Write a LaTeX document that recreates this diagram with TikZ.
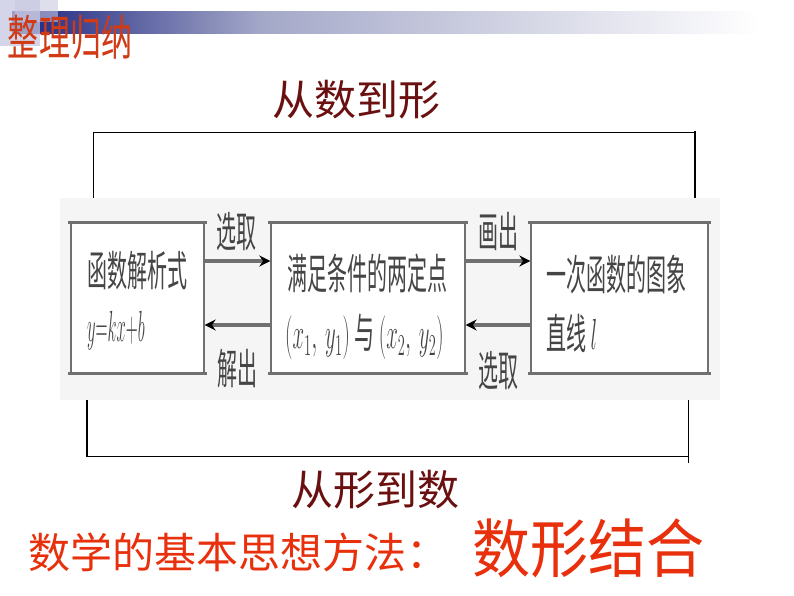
\documentclass[tikz,border=0pt]{standalone}
\usepackage{fontspec}
\setmainfont{Noto Sans CJK SC}
\usetikzlibrary{arrows.meta}
\definecolor{navybar}{HTML}{1A237E}
\definecolor{lavmid}{HTML}{A4A8C8}
\definecolor{lavsq}{HTML}{C8C8E2}
\definecolor{titlered}{HTML}{D03A14}
\definecolor{brightred}{HTML}{E8300C}
\definecolor{deepred}{HTML}{6A1010}
\definecolor{boxline}{HTML}{707070}
\definecolor{boxtext}{HTML}{454545}
\definecolor{bandgray}{HTML}{F5F5F5}
\begin{document}
\begin{tikzpicture}[x=1pt,y=-1pt,
  boxst/.style={draw=boxline,line width=1.2pt,fill=white,inner sep=0pt},
  edgest/.style={draw=boxline,line width=3pt},
  intext/.style={inner sep=0pt,anchor=west,text=boxtext,font=\fontsize{20}{24}\selectfont,yscale=2.1,transform shape},
  lab/.style={inner sep=0pt,text=boxtext,font=\fontsize{20}{24}\selectfont,yscale=2.1,transform shape},
  arr/.style={draw=boxline,line width=3.5pt,-{Stealth[length=11pt,width=11pt,color=black,fill=black]}},
  brk/.style={draw=black,line width=0.8pt},
  brkthick/.style={draw=black,line width=2.6pt}]
\useasboundingbox (0,0) rectangle (794,596);
\fill[white] (0,0) rectangle (794,596);
% header bar
\shade[left color=navybar,right color=lavmid] (12,12) rectangle (262,34);
\shade[left color=lavmid,right color=white] (261,12) rectangle (760,34);
\fill[lavsq,opacity=0.75] (0,0) rectangle (40,46);
\fill[lavsq,opacity=0.6] (15,0) rectangle (58,22);
\begin{scope}[shift={(70,37)}]
\node[inner sep=0pt,text=titlered,font=\fontsize{31}{36}\selectfont,yscale=1.55,transform shape] (title) at (0,0) {整理归纳};
\end{scope}
% upper heading
\node[inner sep=0pt,text=deepred,font=\fontsize{42}{48}\selectfont] (up) at (356,100) {从数到形};
% band
\fill[bandgray] (60,198) rectangle (720,400);
% brackets
\draw[brk] (93,132) -- (695,132);
\draw[brk] (93,132) -- (93,198);
\draw[brkthick] (695,131) -- (695,198);
\draw[brkthick] (87,400) -- (87,457);
\draw[brk] (86,456) -- (688,456);
\draw[brk] (688,400) -- (688,463);
% boxes
\node[boxst,minimum width=133,minimum height=150] (b1) at (137.5,298) {};
\node[boxst,minimum width=194,minimum height=150] (b2) at (368,298) {};
\node[boxst,minimum width=177,minimum height=150] (b3) at (619.5,298) {};
\foreach \b in {b1,b2,b3}{
  \draw[edgest] ([xshift=-2pt]\b.north west) -- ([xshift=2pt]\b.north east);
  \draw[edgest] ([xshift=-2pt]\b.south west) -- ([xshift=2pt]\b.south east);
}
% box texts
\begin{scope}[shift={(87,271)}]\node[intext] (t1a) at (0,0) {函数解析式};\end{scope}
\begin{scope}[shift={(87,331)}]\node[intext,xscale=0.8] (t1b) at (0,0) {$y{=}kx{+}b$};\end{scope}
\begin{scope}[shift={(287,273)}]\node[intext] (t2a) at (0,0) {满足条件的两定点};\end{scope}
\begin{scope}[shift={(285,337)}]\node[intext] (t2b) at (0,0) {$(x_1,\ y_1)$ 与 $(x_2,\ y_2)$};\end{scope}
\begin{scope}[shift={(546,275)}]\node[intext] (t3a) at (0,0) {一次函数的图象};\end{scope}
\begin{scope}[shift={(546,333)}]\node[intext] (t3b) at (0,0) {直线 $l$};\end{scope}
% arrows
\draw[arr] ([yshift=37pt]b1.east) -- ([yshift=37pt]b2.west);
\draw[arr] ([yshift=-27pt]b2.west) -- ([yshift=-27pt]b1.east);
\draw[arr] ([yshift=37pt]b2.east) -- ([yshift=37pt]b3.west);
\draw[arr] ([yshift=-27pt]b3.west) -- ([yshift=-27pt]b2.east);
% arrow labels
\begin{scope}[shift={(236,232)}]\node[lab] (l1) at (0,0) {选取};\end{scope}
\begin{scope}[shift={(237,369)}]\node[lab] (l2) at (0,0) {解出};\end{scope}
\begin{scope}[shift={(498,232)}]\node[lab] (l3) at (0,0) {画出};\end{scope}
\begin{scope}[shift={(498,371)}]\node[lab] (l4) at (0,0) {选取};\end{scope}
% lower heading
\node[inner sep=0pt,text=deepred,font=\fontsize{42}{48}\selectfont] (down) at (375,490) {从形到数};
% bottom line
\node[inner sep=0pt,anchor=west,text=brightred,font=\fontsize{42}{48}\selectfont] (m1) at (28,552) {数学的基本思想方法：};
\begin{scope}[shift={(472,548)}]
\node[inner sep=0pt,anchor=west,text=brightred,font=\fontsize{58}{64}\selectfont,yscale=1.1,transform shape] (m2) at (0,0) {数形结合};
\end{scope}
\end{tikzpicture}
\end{document}
